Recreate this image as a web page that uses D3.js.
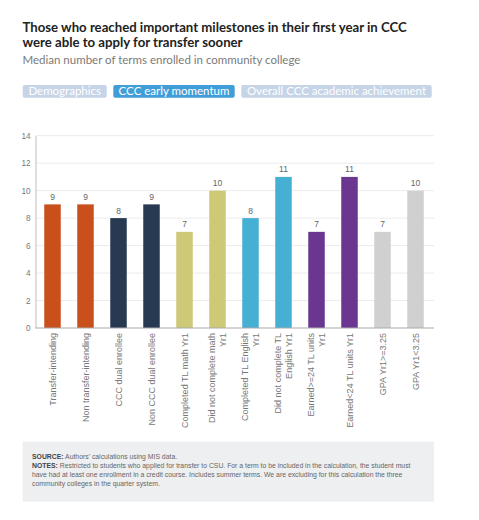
<!DOCTYPE html>
<html>
<head>
<meta charset="utf-8">
<script src="https://cdn.jsdelivr.net/npm/d3@7"></script>
<style>
  body { margin: 0; background: #fff; }
  svg { display: block; }
</style>
</head>
<body>
<div id="container"></div>
<script>
// chart values
const labels = [
  ["Transfer-intending"],
  ["Non transfer-intending"],
  ["CCC dual enrollee"],
  ["Non CCC dual enrollee"],
  ["Completed TL math Yr1"],
  ["Did not complete math", "Yr1"],
  ["Completed TL English", "Yr1"],
  ["Did not complete TL", "English Yr1"],
  ["Earned>=24 TL units", "Yr1"],
  ["Earned<24 TL units Yr1"],
  ["GPA Yr1>=3.25"],
  ["GPA Yr1<3.25"]
];
const values = [9, 9, 8, 9, 7, 10, 8, 11, 7, 11, 7, 10];
const groups = ["demo", "demo", "dual", "dual", "math", "math", "eng", "eng", "units", "units", "gpa", "gpa"];
const yTicks = [0, 2, 4, 6, 8, 10, 12, 14];
const tabs = ["Demographics", "CCC early momentum", "Overall CCC academic achievement"];

const colors = {
  demo: "#c9501c",
  dual: "#283a52",
  math: "#cdc977",
  eng: "#45b0d4",
  units: "#6a368f",
  gpa: "#d0d0d0"
};

const W = 479, H = 520;
const svg = d3.select("#container").append("svg")
  .attr("width", W).attr("height", H);

// title + subtitle
const titleFont = "Lato, 'Open Sans', sans-serif";
const labelFont = "'Liberation Sans', Arial, sans-serif";
svg.append("text").attr("x", 22.5).attr("y", 32)
  .attr("font-family", titleFont).attr("font-weight", 700)
  .attr("font-size", 13.2).attr("fill", "#222")
  .text("Those who reached important milestones in their first year in CCC");
svg.append("text").attr("x", 22.5).attr("y", 47)
  .attr("font-family", titleFont).attr("font-weight", 700)
  .attr("font-size", 13.2).attr("fill", "#222")
  .text("were able to apply for transfer sooner");
svg.append("text").attr("x", 22.5).attr("y", 64)
  .attr("font-family", titleFont)
  .attr("font-size", 11.5).attr("fill", "#7a7a7a")
  .text("Median number of terms enrolled in community college");

// tab buttons
const tabX = [22.7, 113.3, 241.3];
const tabW = [84, 121.4, 190.4];
const tabG = svg.append("g");
tabs.forEach((t, i) => {
  tabG.append("rect")
    .attr("x", tabX[i]).attr("y", 85).attr("width", tabW[i]).attr("height", 12.7)
    .attr("rx", 2)
    .attr("fill", i === 1 ? "#3f9ed8" : "#c6d4e7");
  tabG.append("text")
    .attr("x", tabX[i] + tabW[i] / 2).attr("y", 95.3)
    .attr("text-anchor", "middle")
    .attr("font-family", titleFont).attr("font-size", 11.5)
    .attr("fill", "#fff")
    .text(t);
});

// plot area
const x = d3.scaleBand()
  .domain(d3.range(values.length))
  .range([36, 432])
  .paddingInner(0.5)
  .paddingOuter(0.25);

const y = d3.scaleLinear()
  .domain([0, 14])
  .range([328, 135.7]);

const plot = svg.append("g");

// gridlines
plot.append("g")
  .selectAll("line")
  .data(yTicks.filter(d => d > 0))
  .enter().append("line")
  .attr("x1", 35.5).attr("x2", 434)
  .attr("y1", d => y(d)).attr("y2", d => y(d))
  .attr("stroke", "#ececec").attr("stroke-width", 1);

// y axis
const yAxis = d3.axisLeft(y).tickValues(yTicks).tickSize(0).tickPadding(5);
const yG = plot.append("g")
  .attr("transform", "translate(35.5,0)")
  .call(yAxis);
yG.select(".domain").attr("stroke", "#bdbdbd");
yG.selectAll("text")
  .attr("font-family", labelFont)
  .attr("font-size", 8.2).attr("fill", "#777");

// bars
plot.append("g")
  .selectAll("rect")
  .data(values)
  .enter().append("rect")
  .attr("x", (d, i) => x(i))
  .attr("y", d => y(d))
  .attr("width", x.bandwidth())
  .attr("height", d => y(0) - y(d))
  .attr("fill", (d, i) => colors[groups[i]]);

// value labels
plot.append("g")
  .selectAll("text")
  .data(values)
  .enter().append("text")
  .attr("x", (d, i) => x(i) + x.bandwidth() / 2)
  .attr("y", d => y(d) - 4.5)
  .attr("text-anchor", "middle")
  .attr("font-family", labelFont)
  .attr("font-size", 8.5).attr("fill", "#666")
  .text(d => d);

// baseline
plot.append("line")
  .attr("x1", 35.5).attr("x2", 434)
  .attr("y1", y(0)).attr("y2", y(0))
  .attr("stroke", "#aaa").attr("stroke-width", 1.2);

// rotated x labels
const xl = plot.append("g");
labels.forEach((lines, i) => {
  const cx = x(i) + x.bandwidth() / 2;
  lines.forEach((ln, j) => {
    const off = (j - (lines.length - 1) / 2) * 11 + 3.2;
    xl.append("text")
      .attr("transform", `translate(${cx + off},333) rotate(-90)`)
      .attr("text-anchor", "end")
      .attr("font-family", labelFont)
      .attr("font-size", 9).attr("fill", "#777")
      .text(ln);
  });
});

// notes box
svg.append("rect")
  .attr("x", 22.7).attr("y", 441.7).attr("width", 411.3).attr("height", 60)
  .attr("fill", "#eeeff1");

const notes = [
  [["SOURCE:", true], [" Authors' calculations using MIS data.", false]],
  [["NOTES:", true], [" Restricted to students who applied for transfer to CSU. For a term to be included in the calculation, the student must", false]],
  [["have had at least one enrollment in a credit course. Includes summer terms. We are excluding for this calculation the three", false]],
  [["community colleges in the quarter system.", false]]
];
const nG = svg.append("g");
notes.forEach((parts, i) => {
  const t = nG.append("text")
    .attr("x", 32).attr("y", 459 + i * 8.9)
    .attr("font-family", labelFont)
    .attr("font-size", 6.85).attr("fill", "#555");
  parts.forEach(([s, b]) => {
    t.append("tspan").attr("font-weight", b ? 700 : 400)
      .attr("fill", b ? "#444" : "#666").text(s);
  });
});
</script>
</body>
</html>
